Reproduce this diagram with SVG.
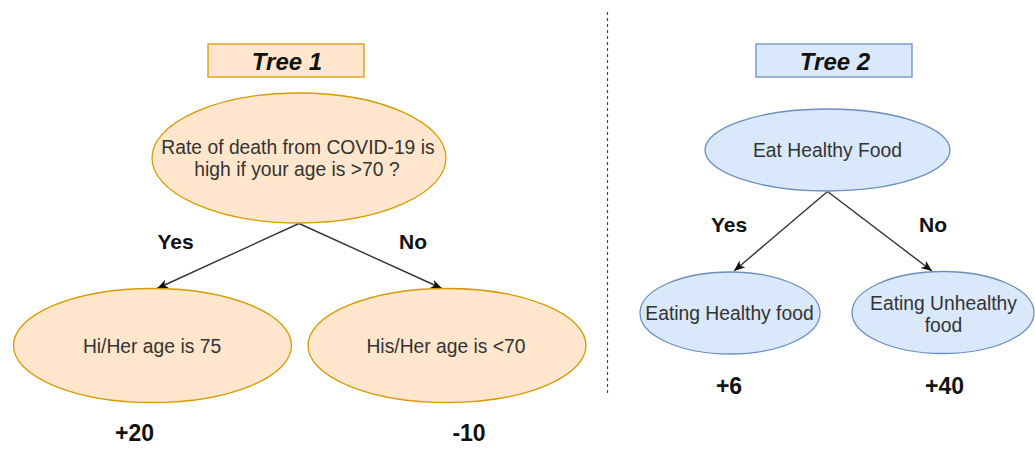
<svg xmlns="http://www.w3.org/2000/svg" width="1035" height="450" viewBox="0 0 1035 450">
  <style>
    text { font-family: "Liberation Sans", Arial, Helvetica, sans-serif; text-anchor: middle; }
    .t { font-size: 19.3px; fill: #333333; }
    .lbl { font-size: 21px; font-weight: bold; fill: #111111; }
    .num { font-size: 23px; font-weight: bold; fill: #111111; }
    .title { font-size: 24px; font-weight: bold; font-style: italic; fill: #111111; }
    .or { fill: #ffe6cc; stroke: #d79b00; stroke-width: 1.3; }
    .bl { fill: #dae8fc; stroke: #6c8ebf; stroke-width: 1.3; }
    .edge { stroke: #333333; stroke-width: 1.4; fill: none; marker-end: url(#arr); }
  </style>
  <defs>
    <marker id="arr" markerUnits="userSpaceOnUse" markerWidth="12" markerHeight="10" refX="11" refY="5" orient="auto">
      <path d="M0,0.5 L11,5 L0,9.5 L3,5 Z" fill="#111111"/>
    </marker>
  </defs>
  <rect width="1035" height="450" fill="#ffffff"/>

  <g id="divider">
    <line x1="607.5" y1="12" x2="607.5" y2="395" stroke="#444444" stroke-width="1.2" stroke-dasharray="3 3"/>
  </g>

  <g id="connectors">
    <line class="edge" x1="299" y1="223.5" x2="157" y2="288.5"/>
    <line class="edge" x1="299" y1="223.5" x2="442" y2="288.5"/>
    <line class="edge" x1="827.5" y1="191.5" x2="734" y2="271"/>
    <line class="edge" x1="827.5" y1="191.5" x2="932" y2="271"/>
  </g>

  <g id="tree1-title">
    <rect class="or" x="208" y="44" width="156" height="33" stroke-width="1.6"/>
    <text class="title" x="287" y="69.5">Tree 1</text>
  </g>
  <g id="tree1-root">
    <ellipse class="or" cx="299" cy="158" rx="147" ry="65"/>
    <text class="t" x="298" y="154">Rate of death from COVID-19 is</text>
    <text class="t" x="297" y="176">high if your age is &gt;70 ?</text>
  </g>
  <g id="tree1-yes">
    <ellipse class="or" cx="152.5" cy="345.5" rx="139" ry="57"/>
    <text class="t" x="152" y="353">Hi/Her age is 75</text>
  </g>
  <g id="tree1-no">
    <ellipse class="or" cx="447" cy="345.5" rx="139" ry="57"/>
    <text class="t" x="446" y="353">His/Her age is &lt;70</text>
  </g>
  <g id="tree1-labels">
    <text class="lbl" x="175.5" y="249">Yes</text>
    <text class="lbl" x="413" y="249">No</text>
    <text class="num" x="134.5" y="441">+20</text>
    <text class="num" x="469" y="441">-10</text>
  </g>

  <g id="tree2-title">
    <rect class="bl" x="756" y="44" width="156" height="33" stroke-width="1.6"/>
    <text class="title" x="835" y="69.5">Tree 2</text>
  </g>
  <g id="tree2-root">
    <ellipse class="bl" cx="827.5" cy="150" rx="122.5" ry="41"/>
    <text class="t" x="827.5" y="157">Eat Healthy Food</text>
  </g>
  <g id="tree2-yes">
    <ellipse class="bl" cx="730" cy="313" rx="90" ry="41"/>
    <text class="t" x="729.5" y="320">Eating Healthy food</text>
  </g>
  <g id="tree2-no">
    <ellipse class="bl" cx="943" cy="312.5" rx="91" ry="41"/>
    <text class="t" x="943.5" y="310">Eating Unhealthy</text>
    <text class="t" x="943.5" y="332">food</text>
  </g>
  <g id="tree2-labels">
    <text class="lbl" x="729" y="232">Yes</text>
    <text class="lbl" x="933" y="232">No</text>
    <text class="num" x="729" y="394">+6</text>
    <text class="num" x="944.5" y="394">+40</text>
  </g>
</svg>
